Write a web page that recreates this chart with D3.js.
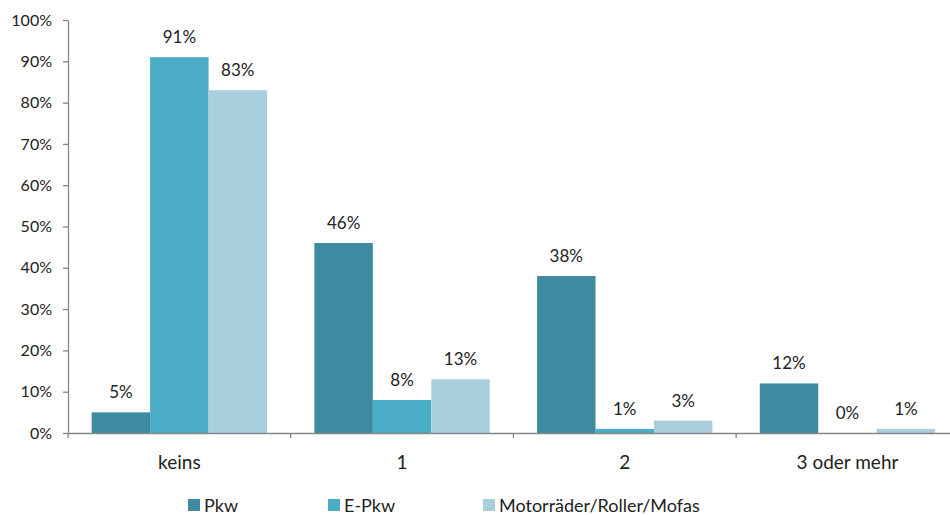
<!DOCTYPE html>
<html>
<head>
<meta charset="utf-8">
<script src="https://cdn.jsdelivr.net/npm/d3@7"></script>
<style>
  html, body { margin: 0; padding: 0; background: #fff; }
  svg { display: block; font-family: Lato, "Open Sans", sans-serif; }
</style>
</head>
<body>
<svg id="chart" width="950" height="515"></svg>
<script>
// Anzahl Fahrzeuge im Haushalt, Anteile in Prozent
const categories = ["keins", "1", "2", "3 oder mehr"];
const seriesNames = ["Pkw", "E-Pkw", "Motorräder/Roller/Mofas"];
const pkw = [5, 46, 38, 12];
const ePkw = [91, 8, 1, 0];
const motor = [83, 13, 3, 1];
const yTicks = [0, 10, 20, 30, 40, 50, 60, 70, 80, 90, 100];
const colors = ["#3d8aa1", "#4bacc6", "#a9cfdd"];

const seriesValues = [pkw, ePkw, motor];

const svg = d3.select("#chart");
const plotLeft = 68, plotTop = 20, plotBottom = 433;
const band = 222.7;
const plotRight = plotLeft + band * categories.length;

const x = d3.scaleBand().domain(categories).range([plotLeft, plotRight]).paddingInner(0).paddingOuter(0);
const inner = d3.scaleBand().domain(seriesNames).range([0, x.bandwidth()]).paddingInner(0).paddingOuter(0.405);
const y = d3.scaleLinear().domain([0, 100]).range([plotBottom, plotTop]);

// Y-Achse
const yAxis = d3.axisLeft(y).tickValues(yTicks).tickFormat(d => d + "%").tickSize(5).tickSizeOuter(0);
const gy = svg.append("g").attr("transform", `translate(${plotLeft},0)`).call(yAxis);
gy.select(".domain").attr("stroke", "#868686").attr("stroke-width", 1.3);
gy.selectAll(".tick line").attr("stroke", "#868686").attr("stroke-width", 1.3);
gy.selectAll(".tick text").attr("fill", "#222").attr("font-size", 16).attr("x", -16).attr("font-family", "Lato");

// Balken
const groups = svg.append("g").selectAll("g")
  .data(categories)
  .join("g")
  .attr("transform", d => `translate(${x(d)},0)`);

groups.selectAll("rect")
  .data((c, i) => seriesNames.map((s, j) => ({ s, j, v: seriesValues[j][i] })))
  .join("rect")
  .attr("x", d => inner(d.s))
  .attr("width", inner.bandwidth())
  .attr("y", d => y(d.v))
  .attr("height", d => y(0) - y(d.v))
  .attr("fill", d => colors[d.j]);

groups.selectAll("text")
  .data((c, i) => seriesNames.map((s, j) => ({ s, j, v: seriesValues[j][i] })))
  .join("text")
  .attr("x", d => inner(d.s) + inner.bandwidth() / 2)
  .attr("y", d => y(d.v) - 14)
  .attr("text-anchor", "middle")
  .attr("font-size", 17)
  .attr("fill", "#222")
  .text(d => d.v + "%");

// X-Achse
const xAxis = d3.axisBottom(x).tickSize(0).tickSizeOuter(0);
const gx = svg.append("g").attr("transform", `translate(0,${plotBottom})`).call(xAxis);
gx.select(".domain").attr("stroke", "#868686").attr("stroke-width", 1.3);
gx.selectAll(".tick text").attr("fill", "#222").attr("font-size", 19).attr("dy", 0).attr("y", 36).attr("font-family", "Lato");
// Trennstriche zwischen den Kategorien
svg.append("g").selectAll("line")
  .data(d3.range(categories.length + 1))
  .join("line")
  .attr("x1", i => plotLeft + i * band).attr("x2", i => plotLeft + i * band)
  .attr("y1", plotBottom).attr("y2", plotBottom + 5)
  .attr("stroke", "#868686").attr("stroke-width", 1.3);

// Legende
const legendX = [188, 328, 483];
const legend = svg.append("g").selectAll("g")
  .data(seriesNames)
  .join("g")
  .attr("transform", (d, i) => `translate(${legendX[i]},505)`);
legend.append("rect").attr("x", 0).attr("y", -6).attr("width", 12).attr("height", 12)
  .attr("fill", (d, i) => colors[i]);
legend.append("text").attr("x", 16).attr("y", 6.5).attr("font-size", 18).attr("fill", "#222").text(d => d);
</script>
</body>
</html>
